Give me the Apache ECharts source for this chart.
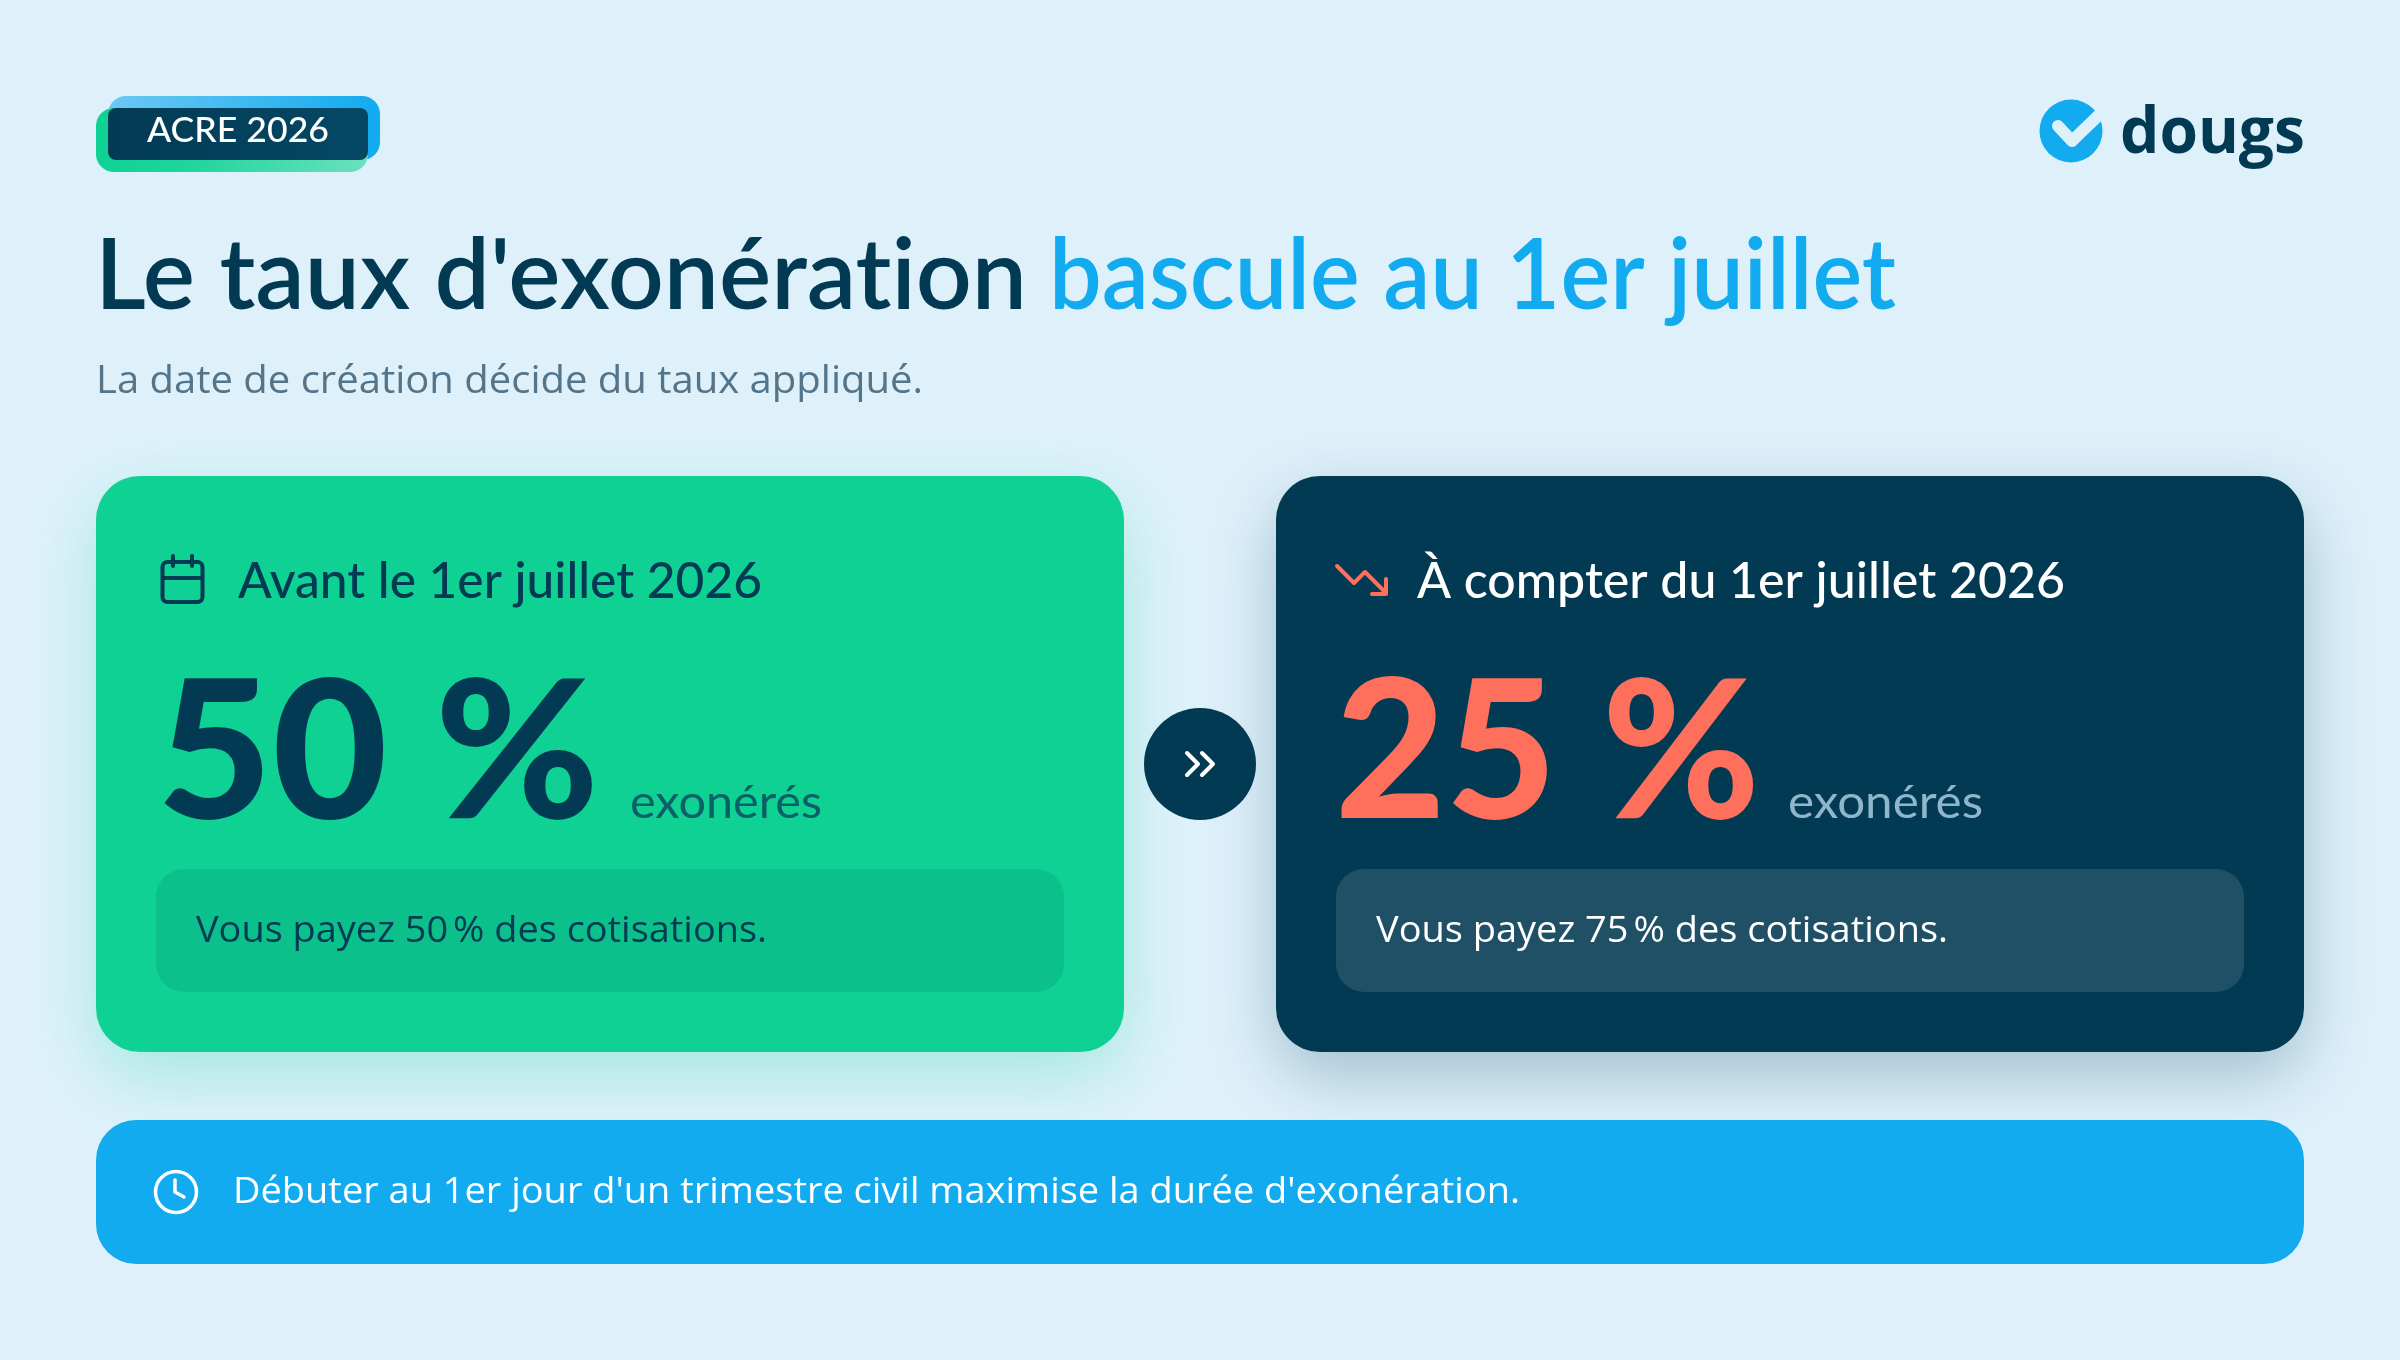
<!DOCTYPE html>
<html>
<head>
<meta charset="utf-8">
<style>html,body{margin:0;padding:0;background:#DEF1FB}#main{width:2400px;height:1360px}</style>
<script src="https://cdn.jsdelivr.net/npm/echarts@6/dist/echarts.min.js"></script>
</head>
<body>
<div id="main"></div>
<script>
var badge = 'ACRE 2026';
var brand = 'dougs';
var titleDark = "Le taux d'exonérat\u200Cion";
var titleBlue = 'bascule au 1er juillet';
var subtitle = 'La date de création décide du taux appliqué.';
var periods = ['Avant le 1er juillet 2026', 'À compter du 1er juillet 2026'];
var rates = [50, 25];
var paid = [50, 75];
var rateUnit = 'exonérés';
var note = "Débuter au 1er jour d'un trimestre civil maximise la durée d'exonération.";

var DARK = '#033A53', GREEN = '#0FD194', BLUE = '#12ABEF', CORAL = '#FF705C', BG = '#DEF1FB';
var HEAD = 'Lato', BODY = '"Open Sans"';

var ctx = document.createElement('canvas').getContext('2d');

// text placed on its baseline and squeezed to the width
function label(str, x, base, width, font, fill) {
    ctx.font = font;
    ctx.textBaseline = 'middle';
    var w = ctx.measureText(str).width;
    var d = ctx.measureText('H').actualBoundingBoxDescent;
    return {
        type: 'text', x: x, y: base - d, scaleX: width / w,
        style: { text: str, x: 0, y: 0, font: font, fill: fill, align: 'left', verticalAlign: 'middle' }
    };
}
function rect(x, y, w, h, r, style) {
    return { type: 'rect', shape: { x: x, y: y, width: w, height: h, r: r }, style: style };
}
function line(points, color, lw) {
    return { type: 'polyline', shape: { points: points }, style: { fill: null, stroke: color, lineWidth: lw, lineCap: 'round', lineJoin: 'round' } };
}
function grad(stops) {
    return new echarts.graphic.LinearGradient(0, 0, 1, 0, stops);
}

var g = [];

// badge
g.push(rect(108, 96, 272, 64, 18, { fill: grad([{ offset: 0, color: '#6CC8F3' }, { offset: 1, color: BLUE }]) }));
g.push(rect(96, 108, 272, 64, 18, { fill: grad([{ offset: 0, color: GREEN }, { offset: 0.35, color: '#1FD69C' }, { offset: 1, color: '#6BE0C0' }]) }));
g.push(rect(108, 108, 260, 52, 8, { fill: grad([{ offset: 0, color: '#033A53' }, { offset: 1, color: '#054866' }]) }));
g.push(label(badge, 147, 142, 182, '500 35px ' + HEAD, '#FFFFFF'));

// logo
g.push({ type: 'circle', shape: { cx: 2071, cy: 131, r: 31.5 }, style: { fill: BLUE } });
g.push(line([[2058, 126], [2072, 141], [2101, 113]], BG, 12));
g.push(label(brand, 2120, 153, 185, '700 64px ' + BODY, DARK));

// title
g.push(label(titleDark, 95, 309, 932, '600 99px ' + HEAD, DARK));
g.push(label(titleBlue, 1049, 309, 847, '600 99px ' + HEAD, BLUE));
g.push(label(subtitle, 96, 393, 827, '400 38px ' + BODY, '#54748A'));

// cards
g.push(rect(96, 476, 1028, 576, 44, { fill: GREEN, shadowBlur: 70, shadowOffsetY: 24, shadowColor: 'rgba(15,209,148,0.28)' }));
g.push(rect(1276, 476, 1028, 576, 44, { fill: DARK, shadowBlur: 70, shadowOffsetY: 24, shadowColor: 'rgba(3,58,83,0.28)' }));
g.push(rect(156, 869, 908, 123, 28, { fill: '#0CC08B' }));
g.push(rect(1336, 869, 908, 123, 28, { fill: '#1F5065' }));

// calendar icon
g.push(rect(162.5, 562, 40, 40, 5, { fill: null, stroke: DARK, lineWidth: 4 }));
g.push(line([[173, 556], [173, 566]], DARK, 4));
g.push(line([[192, 556], [192, 566]], DARK, 4));
g.push(line([[163, 578], [202, 578]], DARK, 4));

// falling trend icon
g.push(line([[1337, 566], [1354, 583], [1365, 572], [1386, 593]], CORAL, 4));
g.push(line([[1386, 579], [1386, 594], [1372, 594]], CORAL, 4));

g.push(label(periods[0], 238, 598, 524, '500 50px ' + HEAD, DARK));
g.push(label(periods[1], 1417, 598, 648, '500 50px ' + HEAD, '#FFFFFF'));

g.push(label(rates[0] + ' %', 157, 818, 442, '900 192px ' + HEAD, DARK));
g.push(label(rates[1] + ' %', 1335, 818, 425, '900 192px ' + HEAD, CORAL));
g.push(label(rateUnit, 630, 818, 192, '400 46px ' + HEAD, '#0A6066'));
g.push(label(rateUnit, 1788, 818, 195, '400 46px ' + HEAD, '#8FB6CB'));

g.push(label('Vous payez ' + paid[0] + '\u202F% des cotisations.', 196, 942, 571, '400 37px ' + BODY, DARK));
g.push(label('Vous payez ' + paid[1] + '\u202F% des cotisations.', 1376, 942, 572, '400 37px ' + BODY, '#FFFFFF'));

// arrow between cards
g.push({ type: 'circle', shape: { cx: 1200, cy: 764, r: 56 }, style: { fill: DARK } });
g.push(line([[1187, 753], [1198, 764], [1187, 775]], '#FFFFFF', 4));
g.push(line([[1202, 753], [1213, 764], [1202, 775]], '#FFFFFF', 4));

// bottom banner
g.push(rect(96, 1120, 2208, 144, 40, { fill: BLUE }));
g.push({ type: 'circle', shape: { cx: 176, cy: 1192, r: 20.5 }, style: { fill: null, stroke: '#FFFFFF', lineWidth: 3.5 } });
g.push(line([[175, 1180], [175, 1192], [184, 1197]], '#FFFFFF', 3.5));
g.push(label(note, 233, 1203, 1287, '400 37px ' + BODY, '#FFFFFF'));

var chart = echarts.init(document.getElementById('main'), null, { renderer: 'canvas' });
chart.setOption({ backgroundColor: BG, animation: false, graphic: { elements: g } });
</script>
</body>
</html>
